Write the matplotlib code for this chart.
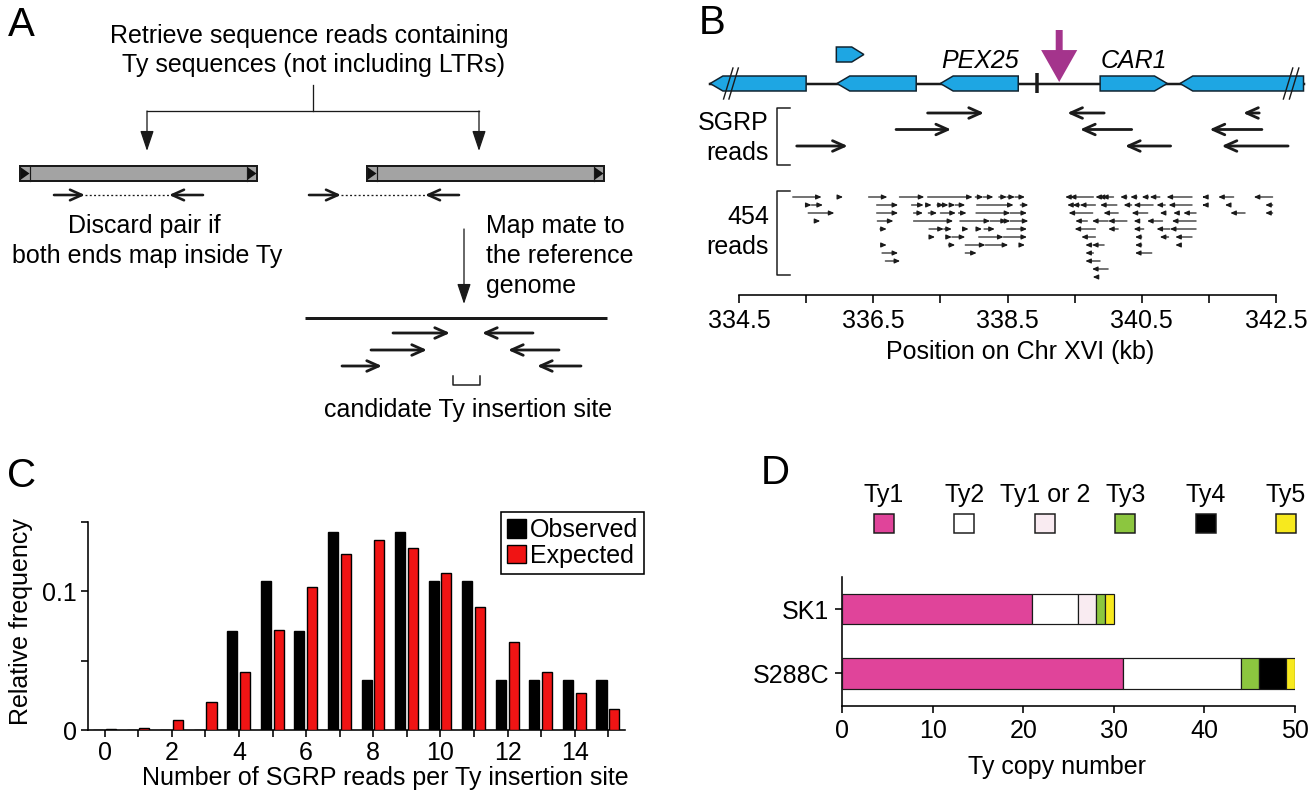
import matplotlib
matplotlib.use('Agg')
import matplotlib.pyplot as plt
from matplotlib.patches import Rectangle, Polygon

plt.rcParams['font.family'] = ['Liberation Sans', 'DejaVu Sans']
FS = 18
LBL = 29

# ============================ DATA ============================
# Panel B : genes on Chr XVI (kb)
gene_start = [334.07, 335.96, 337.50, 339.88, 341.07]
gene_end = [335.50, 337.14, 338.66, 340.88, 342.91]
gene_strand = [-1, -1, -1, 1, -1]
gene_label = ['', '', 'PEX25', 'CAR1', '']
small_gene = [335.95, 336.36, 1]
insertion_kb = 339.27
marker_kb = 338.94

# SGRP reads: (row, left kb, right kb, strand)
sgrp_reads = [
    (0, 337.31, 338.15, 1), (0, 339.39, 339.94, -1), (0, 342.01, 342.25, -1),
    (1, 336.84, 337.66, 1), (1, 339.58, 340.35, -1), (1, 341.51, 342.29, -1),
    (2, 335.36, 336.12, 1), (2, 340.25, 340.93, -1), (2, 341.69, 342.68, -1),
]

# 454 reads, forward strand: (row, left kb, right kb)
reads454_fwd = [
    (0, 335.30, 335.73), (0, 335.98, 336.05), (0, 336.43, 336.71), (0, 336.89, 337.26),
    (0, 337.31, 337.98), (0, 338.02, 338.14), (0, 338.14, 338.29), (0, 338.37, 338.49),
    (0, 338.49, 338.61), (0, 338.61, 338.76),
    (1, 335.50, 335.58), (1, 335.58, 335.75), (1, 336.55, 336.87), (1, 337.07, 337.25),
    (1, 337.30, 337.37), (1, 337.45, 337.55), (1, 337.57, 337.62), (1, 337.64, 337.72),
    (1, 337.72, 337.87), (1, 338.04, 338.59), (1, 338.69, 338.81),
    (2, 335.53, 335.92), (2, 336.55, 336.87), (2, 337.10, 337.24), (2, 337.32, 337.45),
    (2, 337.50, 337.73), (2, 337.77, 337.89), (2, 338.03, 338.54), (2, 338.54, 338.79),
    (3, 335.66, 335.71), (3, 336.56, 336.80), (3, 337.10, 337.69), (3, 337.79, 338.24),
    (3, 338.24, 338.49), (3, 338.49, 338.54), (3, 338.54, 338.81),
    (4, 336.60, 336.70), (4, 337.33, 337.55), (4, 337.55, 337.67), (4, 337.87, 337.92),
    (4, 338.07, 338.12), (4, 338.15, 338.31), (4, 338.49, 338.79),
    (5, 337.37, 337.42), (5, 337.60, 337.67), (5, 337.67, 337.87), (5, 338.07, 338.44),
    (5, 338.44, 338.79),
    (6, 336.63, 336.70), (6, 337.62, 337.72), (6, 337.87, 338.17), (6, 338.17, 338.51),
    (6, 338.71, 338.76),
    (7, 336.63, 336.87), (7, 337.87, 338.04),
    (8, 336.68, 336.90),
]
# 454 reads, reverse strand: (row, left kb, right kb)
reads454_rev = [
    (0, 339.36, 339.43), (0, 339.43, 339.78), (0, 339.81, 339.86), (0, 339.86, 339.91),
    (0, 339.91, 340.08), (0, 340.18, 340.28), (0, 340.33, 340.43), (0, 340.50, 340.60),
    (0, 340.62, 340.77), (0, 340.87, 341.25), (0, 341.40, 341.44), (0, 341.64, 341.87),
    (0, 342.17, 342.45),
    (1, 339.39, 339.47), (1, 339.47, 339.58), (1, 339.58, 339.81), (1, 339.88, 340.13),
    (1, 340.23, 340.35), (1, 340.38, 340.67), (1, 340.72, 340.85), (1, 340.90, 341.25),
    (1, 341.40, 341.44), (1, 341.74, 341.82), (1, 342.34, 342.45),
    (2, 339.41, 339.77), (2, 339.93, 340.15), (2, 340.35, 340.59), (2, 340.77, 340.85),
    (2, 340.97, 341.05), (2, 341.12, 341.31), (2, 341.82, 342.04), (2, 342.34, 342.45),
    (3, 339.51, 339.69), (3, 339.76, 340.00), (3, 340.00, 340.28), (3, 340.38, 340.45),
    (3, 340.58, 340.81), (3, 340.95, 341.31),
    (4, 339.50, 339.81), (4, 340.00, 340.15), (4, 340.38, 340.53), (4, 340.72, 340.92),
    (4, 340.92, 341.31),
    (5, 339.60, 339.81), (5, 340.40, 340.50), (5, 340.77, 340.90), (5, 341.00, 341.25),
    (6, 339.66, 339.76), (6, 339.76, 339.94), (6, 340.40, 340.50), (6, 341.00, 341.07),
    (7, 339.66, 339.78), (7, 340.40, 340.65),
    (8, 339.66, 339.88),
    (9, 339.76, 340.00),
    (10, 339.77, 339.83),
]
b_ticks = [334.5, 335.5, 336.5, 337.5, 338.5, 339.5, 340.5, 341.5, 342.5]
b_ticklabels = ['334.5', '', '336.5', '', '338.5', '', '340.5', '', '342.5']

# Panel C
reads_per_site = list(range(16))
observed_freq = [0, 0, 0, 0, 0.0714, 0.1071, 0.0714, 0.1429, 0.0357, 0.1429,
                 0.1071, 0.1071, 0.0357, 0.0357, 0.0357, 0.0357]
expected_freq = [0.0004, 0.0017, 0.0072, 0.0200, 0.0420, 0.0720, 0.1030, 0.1270,
                 0.1370, 0.1310, 0.1130, 0.0887, 0.0636, 0.0420, 0.0264, 0.0151]

# Panel D
strains = ['S288C', 'SK1']
ty_types = ['Ty1', 'Ty2', 'Ty1 or 2', 'Ty3', 'Ty4', 'Ty5']
ty_counts_S288C = [31, 13, 0, 2, 3, 1]
ty_counts_SK1 = [21, 5, 2, 1, 0, 1]
ty_colors = ['#e0449a', '#ffffff', '#f9ebf1', '#8cc63f', '#000000', '#f7e91e']

# ============================ FIGURE ============================
W, H = 1312, 800
fig = plt.figure(figsize=(13.12, 8), dpi=100)
bg = fig.add_axes([0, 0, 1, 1])
bg.set_xlim(0, W)
bg.set_ylim(H, 0)
bg.axis('off')

P = 0.72  # points per pixel
DARK = '#1a1a1a'


def arrow(ax, x0, y0, x1, y1, style, lw, color=DARK, ms=10, z=3):
    ax.annotate('', xy=(x1, y1), xytext=(x0, y0),
                arrowprops=dict(arrowstyle=style, lw=lw, color=color,
                                shrinkA=0, shrinkB=0, mutation_scale=ms),
                annotation_clip=False, zorder=z)


READ_STYLE = '->,head_length=0.85,head_width=0.38'

# ---------------- Panel A (schematic) ----------------
bg.text(21, 25, 'A', fontsize=LBL, ha='center', va='center')
bg.text(309, 36, 'Retrieve sequence reads containing', fontsize=FS, ha='center', va='center')
bg.text(313, 65, 'Ty sequences (not including LTRs)', fontsize=FS, ha='center', va='center')
bg.plot([313, 313], [85, 111], color=DARK, lw=1.3 * P)
bg.plot([147, 479], [111, 111], color=DARK, lw=1.3 * P)
for xa in (147, 479):
    arrow(bg, xa, 111, xa, 151, '-|>,head_length=1.25,head_width=0.42', 1.3 * P)

for x0, x1 in ((20, 257), (367, 604)):
    bg.add_patch(Rectangle((x0, 166), x1 - x0, 15, fc='#a3a3a3', ec=DARK, lw=2 * P, zorder=2))
    for xs in (x0, x1 - 10):
        bg.plot([xs + 10, xs + 10] if xs == x0 else [xs, xs], [166, 181], color=DARK, lw=1.2 * P, zorder=3)
        bg.add_patch(Polygon([(xs + 1, 167.5), (xs + 9.5, 173.5), (xs + 1, 179.5)],
                             closed=True, fc='#111111', ec='none', zorder=3))

for xa, xb, xc, xd in ((54, 85, 171, 203), (309, 341, 427, 459)):
    arrow(bg, xa, 195, xb, 195, READ_STYLE, 2.6 * P)
    arrow(bg, xd, 195, xc - 2, 195, READ_STYLE, 2.6 * P)
    bg.plot([xb, xc - 2], [195, 195], color=DARK, lw=1.3 * P, ls=(0, (1.5, 1.8)))

bg.text(144, 226, 'Discard pair if', fontsize=FS, ha='center', va='center')
bg.text(147, 256, 'both ends map inside Ty', fontsize=FS, ha='center', va='center')
arrow(bg, 464, 229, 464, 304, '-|>,head_length=1.25,head_width=0.42', 1.3 * P)
bg.text(486, 226, 'Map mate to', fontsize=FS, ha='left', va='center')
bg.text(486, 256, 'the reference', fontsize=FS, ha='left', va='center')
bg.text(486, 286, 'genome', fontsize=FS, ha='left', va='center')
bg.plot([305, 607], [318, 318], color=DARK, lw=3 * P, solid_capstyle='butt')
for y, (r0, r1), (l0, l1) in ((333, (393, 450), (533, 482)),
                              (350, (371, 427), (559, 508)),
                              (366, (342, 382), (581, 537))):
    arrow(bg, r0, y, r1, y, READ_STYLE, 2.8 * P)
    arrow(bg, l0, y, l1, y, READ_STYLE, 2.8 * P)
bg.plot([453, 453, 480, 480], [376, 385, 385, 376], color=DARK, lw=1.5 * P)
bg.text(468, 410, 'candidate Ty insertion site', fontsize=FS, ha='center', va='center')

# ---------------- Panel B ----------------
bg.text(712, 23, 'B', fontsize=LBL, ha='center', va='center')
axB = fig.add_axes([739 / W, 1 - 295 / H, (1276 - 739) / W, (295 - 20) / H])
axB.patch.set_visible(False)
axB.set_xlim(334.5, 342.5)
axB.set_ylim(295, 20)
for s in ('top', 'right', 'left'):
    axB.spines[s].set_visible(False)
axB.spines['bottom'].set_linewidth(1.6 * P)
axB.set_yticks([])
axB.set_xticks(b_ticks)
axB.set_xticklabels(b_ticklabels)
axB.tick_params(axis='x', length=8 * P, width=1.6 * P, labelsize=FS, pad=4, direction='out')
axB.set_xlabel('Position on Chr XVI (kb)', fontsize=FS)
axB.xaxis.set_label_coords(1020, 352, transform=bg.transData)
axB.xaxis.label.set_va('center')

GENE_C = '#1ea6e3'
TRACK_Y, GENE_H, TIP = 83.5, 15, 0.19


def gene_poly(s, e, strand, yc, h, tip):
    top, bot = yc - h / 2, yc + h / 2
    if strand < 0:
        pts = [(s, yc), (s + tip, top), (e, top), (e, bot), (s + tip, bot)]
    else:
        pts = [(s, top), (e - tip, top), (e, yc), (e - tip, bot), (s, bot)]
    return Polygon(pts, closed=True, fc=GENE_C, ec='#10222e', lw=1.5 * P, zorder=3, clip_on=False)


axB.plot([min(gene_start), max(gene_end)], [TRACK_Y, TRACK_Y], color=DARK, lw=2.5 * P,
         clip_on=False, zorder=2)
for s, e, st, lab in zip(gene_start, gene_end, gene_strand, gene_label):
    axB.add_patch(gene_poly(s, e, st, TRACK_Y, GENE_H, TIP))
    if lab:
        axB.text((s + e) / 2 + (0.0 if st > 0 else 0.01), 61, lab, fontsize=FS, style='italic',
                 ha='center', va='center')
axB.add_patch(gene_poly(small_gene[0], small_gene[1], small_gene[2], 54.5, 15, 0.18))
# break marks
for xb in (gene_start[0] + 0.27, gene_start[0] + 0.35, gene_end[-1] - 0.23, gene_end[-1] - 0.14):
    axB.plot([xb - 0.07, xb + 0.07], [99, 68], color=DARK, lw=1.4 * P, clip_on=False, zorder=4)
axB.plot([marker_kb, marker_kb], [73, 93], color=DARK, lw=3.5 * P, zorder=4, solid_capstyle='butt')
arrow(axB, insertion_kb, 30, insertion_kb, 82,
      'simple,head_length=2.3,head_width=2.6,tail_width=0.5', 0, color='#a4348c', z=5)

# SGRP reads
bg.text(769, 123, 'SGRP', fontsize=FS, ha='right', va='center')
bg.text(769, 153, 'reads', fontsize=FS, ha='right', va='center')
bg.plot([790, 777, 777, 790], [108, 108, 165, 165], color=DARK, lw=1.5 * P)
for row, l, r, st in sgrp_reads:
    y = 113 + 16.5 * row
    if st > 0:
        arrow(axB, l, y, r, y, READ_STYLE, 2.8 * P)
    else:
        arrow(axB, r, y, l, y, READ_STYLE, 2.8 * P)

# 454 reads
bg.text(769, 217, '454', fontsize=FS, ha='right', va='center')
bg.text(769, 247, 'reads', fontsize=FS, ha='right', va='center')
bg.plot([790, 777, 777, 790], [191, 191, 275, 275], color=DARK, lw=1.5 * P)
SMALL = '-|>,head_length=0.32,head_width=0.14'
for row, l, r in reads454_fwd:
    y = 197 + 8.0 * row
    arrow(axB, l, y, r, y, SMALL, 1.2 * P)
for row, l, r in reads454_rev:
    y = 197 + 8.0 * row
    arrow(axB, r, y, l, y, SMALL, 1.2 * P)

# ---------------- Panel C ----------------
bg.text(22, 476, 'C', fontsize=LBL, ha='center', va='center')
axC = fig.add_axes([88 / W, 1 - 730 / H, (625 - 88) / W, (730 - 522) / H])
axC.patch.set_visible(False)
xs = reads_per_site
axC.bar([x - 0.2 for x in xs], observed_freq, 0.3, color='black', edgecolor='black',
        lw=1.0, label='Observed', zorder=3)
axC.bar([x + 0.18 for x in xs], expected_freq, 0.3, color='#f01414', edgecolor='black',
        lw=1.0, label='Expected', zorder=3)
axC.set_xlim(-0.5, 15.5)
axC.set_ylim(0, 0.15)
for s in ('top', 'right'):
    axC.spines[s].set_visible(False)
for s in ('left', 'bottom'):
    axC.spines[s].set_linewidth(1.6 * P)
axC.set_yticks([0, 0.05, 0.1, 0.15])
axC.set_yticklabels(['0', '', '0.1', ''])
axC.set_xticks(xs)
axC.set_xticklabels([str(x) if x % 2 == 0 else '' for x in xs])
axC.tick_params(length=7 * P, width=1.6 * P, labelsize=FS, pad=3)
axC.set_ylabel('Relative frequency', fontsize=FS)
axC.yaxis.set_label_coords(21, 622, transform=bg.transData)
axC.yaxis.label.set_va('center')
axC.set_xlabel('Number of SGRP reads per Ty insertion site', fontsize=FS)
axC.xaxis.set_label_coords(385, 778, transform=bg.transData)
axC.xaxis.label.set_va('center')
leg = axC.legend(loc='upper right', bbox_to_anchor=(644 / W, 1 - 512 / H),
                 bbox_transform=fig.transFigure, fontsize=FS, frameon=True, fancybox=False,
                 edgecolor='black', framealpha=1, borderpad=0.25, labelspacing=0.05,
                 handlelength=0.75, handleheight=0.75, handletextpad=0.15, borderaxespad=0)
leg.get_frame().set_linewidth(1.6 * P)

# ---------------- Panel D ----------------
bg.text(775, 473, 'D', fontsize=LBL, ha='center', va='center')
for i, (name, col) in enumerate(zip(ty_types, ty_colors)):
    cx = 884 + 80.4 * i
    bg.text(cx, 495, name, fontsize=FS, ha='center', va='center')
    bg.add_patch(Rectangle((cx - 10, 514), 20, 19, fc=col, ec=DARK, lw=1.5 * P))

axD = fig.add_axes([842 / W, 1 - 706 / H, (1295 - 842) / W, (706 - 577) / H])
axD.patch.set_visible(False)
counts = [ty_counts_S288C, ty_counts_SK1]
for yi, cnts in enumerate(counts):
    left = 0
    for c, col in zip(cnts, ty_colors):
        if c > 0:
            axD.barh(yi, c, 0.48, left=left, color=col, edgecolor=DARK, lw=1.2 * P, zorder=3)
        left += c
axD.set_xlim(0, 50)
axD.set_ylim(-0.51, 1.5)
for s in ('top', 'right'):
    axD.spines[s].set_visible(False)
for s in ('left', 'bottom'):
    axD.spines[s].set_linewidth(1.6 * P)
axD.set_xticks([0, 10, 20, 30, 40, 50])
axD.set_yticks([0, 1])
axD.set_yticklabels(strains)
axD.tick_params(length=7 * P, width=1.6 * P, labelsize=FS, pad=4)
axD.set_xlabel('Ty copy number', fontsize=FS)
axD.xaxis.set_label_coords(1057, 767, transform=bg.transData)
axD.xaxis.label.set_va('center')

fig.savefig('out.png', dpi=100)
